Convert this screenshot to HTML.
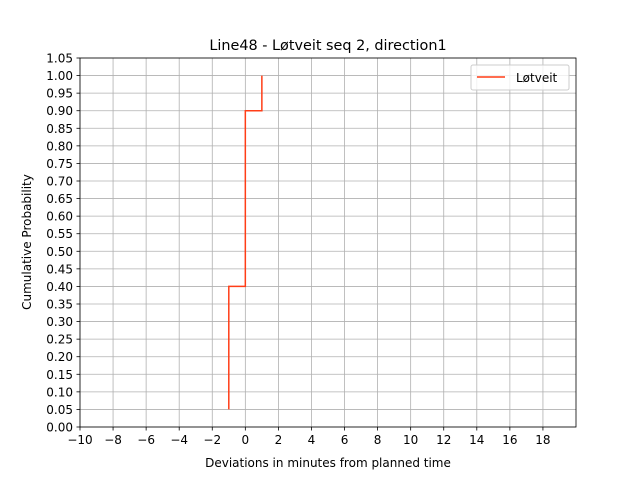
<!DOCTYPE html>
<html><head><meta charset="utf-8"><style>
body{margin:0;background:#fff;}
svg text{font-family:"DejaVu Sans","Liberation Sans",sans-serif;fill:#000;}
</style></head><body>
<svg id="chart" width="640" height="480" xmlns="http://www.w3.org/2000/svg">
<rect width="640" height="480" fill="#fff"/>
<g id="grid"></g>
<g id="ticks"></g>
<path id="series" fill="none" stroke="#ff3d17" stroke-width="1.5"/>
<rect x="80" y="58" width="496" height="369" fill="none" stroke="#000" stroke-width="0.8"/>
<text x="328" y="50" font-size="14.4" text-anchor="middle">Line48 - Løtveit seq 2, direction1</text>
<text x="328" y="467" font-size="12" text-anchor="middle">Deviations in minutes from planned time</text>
<text transform="translate(31,242) rotate(-90)" font-size="12" text-anchor="middle">Cumulative Probability</text>
<g>
<rect x="471" y="65" width="98" height="25" rx="2" fill="#fff" fill-opacity="0.8" stroke="#ccc"/>
<line x1="477" y1="77" x2="505" y2="77" stroke="#ff3d17" stroke-width="1.5"/>
<text x="516" y="82" font-size="12">Løtveit</text>
</g>
</svg>
<script>
const xs = [-1, -1, 0, 0, 1, 1];
const ys = [0.05, 0.4, 0.4, 0.9, 0.9, 1.0];
const xTicks = [-10,-8,-6,-4,-2,0,2,4,6,8,10,12,14,16,18];
const yTicks = [0,0.05,0.1,0.15,0.2,0.25,0.3,0.35,0.4,0.45,0.5,0.55,0.6,0.65,0.7,0.75,0.8,0.85,0.9,0.95,1.0,1.05];
const X = v => 80 + (v + 10) * 496 / 30;
const Y = v => 427 - v * 369 / 1.05;
const ns = "http://www.w3.org/2000/svg";
const grid = document.getElementById('grid'), ticks = document.getElementById('ticks');
function mk(tag, attrs, parent){const e=document.createElementNS(ns,tag);for(const k in attrs)e.setAttribute(k,attrs[k]);parent.appendChild(e);return e;}
xTicks.forEach(t=>{
  const x=X(t);
  const g=mk('line',{x1:x,x2:x,y1:58,y2:427,stroke:'#b0b0b0','stroke-width':0.8},grid);
  
  
  mk('line',{x1:x,x2:x,y1:427,y2:430.5,stroke:'#000','stroke-width':0.8},ticks);
  const tx=mk('text',{x:x,y:444,'font-size':12,'text-anchor':'middle'},ticks);
  tx.textContent=t<0?'\u2212'+(-t):String(t);
  
  
});
yTicks.forEach(t=>{
  const y=Y(t);
  const g=mk('line',{x1:80,x2:576,y1:y,y2:y,stroke:'#b0b0b0','stroke-width':0.8},grid);
  
  
  mk('line',{x1:76.5,x2:80,y1:y,y2:y,stroke:'#000','stroke-width':0.8},ticks);
  const tx=mk('text',{x:73,y:y+4.5,'font-size':12,'text-anchor':'end'},ticks);
  tx.textContent=t.toFixed(2);
  
  
});
document.getElementById('series').setAttribute('d', xs.map((v,i)=>(i?'L':'M')+X(v)+','+Y(ys[i])).join(' '));
</script>
</body></html>
